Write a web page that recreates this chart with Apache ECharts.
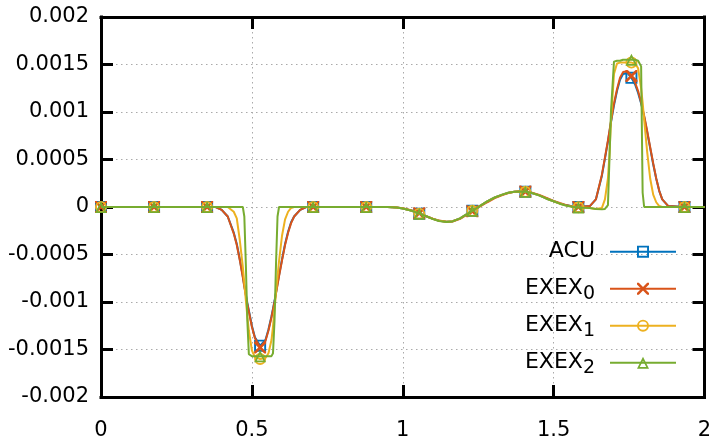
<!DOCTYPE html>
<html>
<head>
<meta charset="utf-8">
<script src="https://cdn.jsdelivr.net/npm/echarts@6/dist/echarts.min.js"></script>
<style>
  html, body { margin: 0; padding: 0; background: #fff; }
  #chart { width: 716px; height: 446px; }
</style>
</head>
<body>
<div id="chart"></div>
<script>
// 坐标轴刻度
var xTicks = [0, 0.5, 1, 1.5, 2];
var yTicks = [-0.002, -0.0015, -0.001, -0.0005, 0, 0.0005, 0.001, 0.0015, 0.002];

var names = ['ACU', 'EXEX0', 'EXEX1', 'EXEX2'];

// 采样点
var xs = [
  0, 0.1758, 0.3516, 0.38, 0.40, 0.42, 0.44, 0.45, 0.46, 0.47, 0.475, 0.48, 0.485, 0.49, 0.50, 0.51,
  0.5273, 0.545, 0.555, 0.565, 0.57, 0.575, 0.58, 0.585, 0.59, 0.60, 0.61, 0.62, 0.63, 0.64, 0.66, 0.68, 0.7031,
  0.8789, 0.95, 0.98, 1.0, 1.03, 1.0547, 1.08, 1.10, 1.12, 1.145, 1.165, 1.19, 1.21, 1.2305, 1.255, 1.28,
  1.305, 1.33, 1.35, 1.37, 1.39, 1.4063, 1.425, 1.45, 1.475, 1.50, 1.52, 1.54, 1.56, 1.582,
  1.62, 1.64, 1.66, 1.67, 1.68, 1.685, 1.69, 1.70, 1.71, 1.72, 1.73, 1.745, 1.7578, 1.77, 1.78, 1.79,
  1.795, 1.80, 1.81, 1.82, 1.83, 1.84, 1.85, 1.86, 1.88, 1.9336, 2.0
];

// 带标记的点
var markX = [0, 0.1758, 0.3516, 0.5273, 0.7031, 0.8789, 1.0547, 1.2305, 1.4063, 1.582, 1.7578, 1.9336];

var acu = [
  0, 0, 0, 0, -0.00003, -0.0001, -0.00027, -0.00039, -0.00055, -0.00073, -0.00083, -0.00092, -0.00101, -0.00109, -0.00125, -0.00137,
  -0.00146, -0.0014, -0.00129, -0.00115, -0.00107, -0.00099, -0.0009, -0.00081, -0.00072, -0.00055, -0.00039, -0.00026, -0.00016, -0.0001, -0.00003, 0, 0,
  0, 0, -0.000005, -0.000015, -0.00004, -0.00007, -0.0001, -0.000125, -0.000145, -0.000155, -0.00015, -0.00012, -0.00008, -0.00004, 0.00001, 0.00006,
  0.0001, 0.00013, 0.00015, 0.00016, 0.000163, 0.00016, 0.00015, 0.000125, 0.00009, 0.00006, 0.000038, 0.00002, 0.000008, 0,
  0.00001, 0.00008, 0.00033, 0.00051, 0.00069, 0.00079, 0.00089, 0.00107, 0.00122, 0.00134, 0.0014, 0.00141, 0.00136, 0.00129, 0.0012, 0.00109,
  0.00102, 0.00095, 0.00079, 0.00062, 0.00045, 0.0003, 0.00017, 0.00008, 0.00001, 0, 0
];

var exex0 = [
  0, 0, 0, 0, -0.00003, -0.0001, -0.00028, -0.0004, -0.00056, -0.00074, -0.00084, -0.00093, -0.00102, -0.0011, -0.00126, -0.00138,
  -0.00148, -0.00141, -0.0013, -0.00116, -0.00108, -0.001, -0.00091, -0.00082, -0.00073, -0.00056, -0.0004, -0.00027, -0.00017, -0.0001, -0.00003, 0, 0,
  0, 0, -0.000004, -0.000013, -0.000037, -0.000066, -0.0001, -0.000123, -0.000143, -0.000155, -0.000152, -0.000125, -0.000085, -0.000045, 0.000003, 0.00005,
  0.000093, 0.000125, 0.000147, 0.00016, 0.000165, 0.000162, 0.000153, 0.00013, 0.000097, 0.000065, 0.000042, 0.000022, 0.000009, 0,
  0.00001, 0.00008, 0.00034, 0.00052, 0.0007, 0.0008, 0.0009, 0.00109, 0.00124, 0.00136, 0.00142, 0.00143, 0.00138, 0.00131, 0.00122, 0.0011,
  0.00103, 0.00096, 0.0008, 0.00063, 0.00046, 0.0003, 0.00017, 0.00008, 0.00001, 0, 0
];

var exex1 = [
  0, 0, 0, 0, 0, 0, -0.00005, -0.00012, -0.00035, -0.00063, -0.0008, -0.00098, -0.00115, -0.0013, -0.00151, -0.00158,
  -0.0016, -0.00159, -0.00154, -0.0014, -0.00126, -0.00108, -0.0009, -0.00073, -0.00057, -0.0003, -0.00013, -0.00005, -0.00001, 0, 0, 0, 0,
  0, 0, -0.000005, -0.000015, -0.00004, -0.00007, -0.0001, -0.000125, -0.000145, -0.000156, -0.00015, -0.00012, -0.00008, -0.00004, 0.00001, 0.00006,
  0.0001, 0.00013, 0.00015, 0.00016, 0.000163, 0.00016, 0.00015, 0.000125, 0.00009, 0.00006, 0.000036, 0.000017, 0.000004, -0.000003,
  -0.00001, -0.00002, -0.00001, 0.00008, 0.0003, 0.00055, 0.0009, 0.0014, 0.00151, 0.00152, 0.00152, 0.00152, 0.00152, 0.00151, 0.00146, 0.00125,
  0.0011, 0.00092, 0.00058, 0.0003, 0.00013, 0.00005, 0.00001, 0, 0, 0, 0
];

var exex2 = [
  0, 0, 0, 0, 0, 0, 0, 0, 0, 0, -0.0001, -0.0006, -0.0012, -0.00155, -0.00157, -0.00157,
  -0.00157, -0.00157, -0.00157, -0.00157, -0.00154, -0.0012, -0.0006, -0.0001, 0, 0, 0, 0, 0, 0, 0, 0, 0,
  0, 0, -0.000005, -0.000015, -0.00004, -0.00007, -0.0001, -0.000127, -0.000147, -0.000157, -0.000152, -0.00012, -0.00008, -0.00004, 0.00001, 0.00006,
  0.0001, 0.00013, 0.00015, 0.00016, 0.000164, 0.00016, 0.00015, 0.000125, 0.00009, 0.00006, 0.000035, 0.000015, 0.000002, -0.000004,
  -0.00001, -0.00002, -0.000025, -0.00002, 0.00002, 0.0005, 0.001, 0.00153, 0.00154, 0.00154, 0.00155, 0.00155, 0.00155, 0.00155, 0.00154, 0.00148,
  0.00015, 0, 0, 0, 0, 0, 0, 0, 0, 0, 0
];

var colors = ['#0072bd', '#d95319', '#edb120', '#77ac30'];

// 空心标记
var symbols = [
  'path://M0,0L10,0L10,10L0,10Z M1.6,1.6L1.6,8.4L8.4,8.4L8.4,1.6Z',
  'path://M0,0L1.5,0L5,3.5L8.5,0L10,0L10,1.5L6.5,5L10,8.5L10,10L8.5,10L5,6.5L1.5,10L0,10L0,8.5L3.5,5L0,1.5Z',
  'path://M0,5A5,5,0,1,1,10,5A5,5,0,1,1,0,5Z M1.6,5A3.4,3.4,0,1,0,8.4,5A3.4,3.4,0,1,0,1.6,5Z',
  'path://M5,0L10,10L0,10Z M5,3.3L2.3,8.6L7.7,8.6Z'
];

var myChart = echarts.init(document.getElementById('chart'));

function buildData(ys) {
  return xs.map(function (x, i) {
    var item = { value: [x, ys[i]] };
    if (markX.indexOf(x) < 0) {
      item.symbol = 'none';
    }
    return item;
  });
}

var allY = [acu, exex0, exex1, exex2];

var font = 'DejaVu Sans';

var borderLine = { show: true, onZero: false, lineStyle: { color: '#000', width: 3, cap: 'square' } };
var tickIn = { show: true, inside: true, length: 12, lineStyle: { color: '#000', width: 3 } };
var gridLine = { show: true, lineStyle: { color: '#aaa', width: 1, type: [1.5, 3.5] } };

var series = names.map(function (n, i) {
  return {
    name: n,
    type: 'line',
    data: buildData(allY[i]),
    symbol: symbols[i],
    symbolSize: 12,
    showAllSymbol: true,
    smooth: false,
    itemStyle: { color: colors[i], borderWidth: 0 },
    lineStyle: { color: colors[i], width: 2 },
    z: 2 + i
  };
});

var option = {
  animation: false,
  backgroundColor: '#fff',
  grid: { left: 101, right: 11.5, top: 17, bottom: 49 },
  legend: {
    data: names,
    orient: 'vertical',
    align: 'right',
    right: 39,
    top: 236.7,
    padding: 0,
    itemWidth: 66,
    itemHeight: 15,
    itemGap: 7,
    selectedMode: false,
    formatter: function (name) {
      if (name === 'ACU') return '{m|ACU}';
      return '{m|EXEX}{s|' + name.slice(4) + '}';
    },
    textStyle: {
      color: '#000',
      fontFamily: font,
      fontSize: 22,
      lineHeight: 30,
      padding: [0, 10, 0, 0],
      rich: {
        m: { fontFamily: font, fontSize: 22, lineHeight: 30, color: '#000' },
        s: { fontFamily: font, fontSize: 19, lineHeight: 15, verticalAlign: 'bottom', color: '#000' }
      }
    }
  },
  xAxis: [{
    type: 'value',
    min: xTicks[0],
    max: xTicks[xTicks.length - 1],
    interval: 0.5,
    axisLine: borderLine,
    axisTick: tickIn,
    splitLine: gridLine,
    axisLabel: { color: '#000', fontFamily: font, fontSize: 21, margin: 23 }
  }, {
    type: 'value',
    position: 'top',
    min: xTicks[0],
    max: xTicks[xTicks.length - 1],
    interval: 0.5,
    axisLine: borderLine,
    axisTick: tickIn,
    splitLine: { show: false },
    axisLabel: { show: false }
  }],
  yAxis: [{
    type: 'value',
    min: yTicks[0],
    max: yTicks[yTicks.length - 1],
    interval: 0.0005,
    axisLine: borderLine,
    axisTick: tickIn,
    splitLine: gridLine,
    axisLabel: {
      color: '#000', fontFamily: font, fontSize: 21, margin: 12,
      formatter: function (v) { return String(+v.toFixed(4)); }
    }
  }, {
    type: 'value',
    position: 'right',
    min: yTicks[0],
    max: yTicks[yTicks.length - 1],
    interval: 0.0005,
    axisLine: borderLine,
    axisTick: tickIn,
    splitLine: { show: false },
    axisLabel: { show: false }
  }],
  series: series
};

myChart.setOption(option);
</script>
</body>
</html>
